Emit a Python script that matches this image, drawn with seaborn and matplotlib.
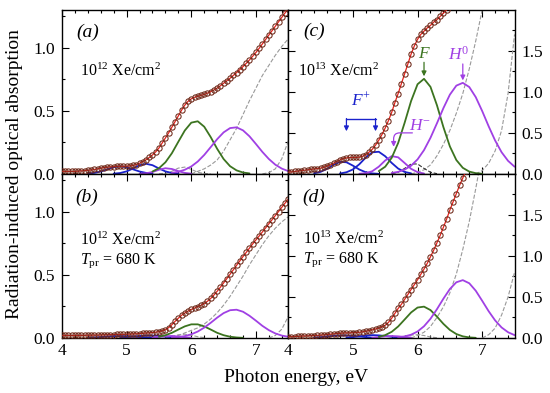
import numpy as np
import matplotlib
matplotlib.use("Agg")
import matplotlib.pyplot as plt
from matplotlib.ticker import MultipleLocator, FixedLocator, FormatStrFormatter
import seaborn as sns

# measured spectra, 0.05 eV grid starting at 4.0 eV
energy = np.round(np.arange(4.0, 7.501, 0.05), 2)

abs_a = [0.020, 0.020, 0.020, 0.020, 0.020, 0.022, 0.024, 0.026, 0.028, 0.031,
         0.035, 0.040, 0.045, 0.050, 0.053, 0.056, 0.058, 0.060, 0.060, 0.060,
         0.061, 0.063, 0.067, 0.074, 0.084, 0.097, 0.112, 0.130, 0.150, 0.175,
         0.205, 0.245, 0.285, 0.325, 0.370, 0.415, 0.460, 0.505, 0.545, 0.575,
         0.595, 0.607, 0.615, 0.622, 0.630, 0.640, 0.652, 0.665, 0.680, 0.698,
         0.718, 0.738, 0.758, 0.780, 0.802, 0.826, 0.850, 0.876, 0.903, 0.932,
         0.962, 0.995, 1.030, 1.065, 1.100, 1.135, 1.170, 1.205, 1.240, 1.275,
         1.310]
abs_b = [0.020, 0.020, 0.020, 0.020, 0.020, 0.020, 0.021, 0.021, 0.022, 0.022,
         0.023, 0.023, 0.024, 0.025, 0.025, 0.026, 0.027, 0.028, 0.028, 0.029,
         0.030, 0.031, 0.032, 0.033, 0.035, 0.037, 0.039, 0.041, 0.043, 0.046,
         0.050, 0.056, 0.065, 0.082, 0.105, 0.132, 0.157, 0.180, 0.198, 0.213,
         0.226, 0.237, 0.248, 0.259, 0.273, 0.291, 0.313, 0.340, 0.370, 0.402,
         0.436, 0.470, 0.505, 0.540, 0.575, 0.610, 0.645, 0.678, 0.712, 0.745,
         0.777, 0.808, 0.840, 0.872, 0.905, 0.937, 0.970, 1.002, 1.035, 1.068,
         1.100]
abs_c = [0.020, 0.025, 0.030, 0.035, 0.040, 0.045, 0.050, 0.055, 0.060, 0.065,
         0.070, 0.080, 0.095, 0.110, 0.130, 0.150, 0.170, 0.185, 0.195, 0.200,
         0.200, 0.200, 0.205, 0.215, 0.235, 0.265, 0.300, 0.350, 0.410, 0.480,
         0.560, 0.650, 0.750, 0.870, 0.980, 1.100, 1.220, 1.340, 1.460, 1.560,
         1.640, 1.700, 1.740, 1.780, 1.810, 1.850, 1.880, 1.920, 1.960, 2.000,
         2.050, 2.100]
abs_d = [0.015, 0.016, 0.018, 0.020, 0.022, 0.024, 0.026, 0.028, 0.030, 0.032,
         0.035, 0.038, 0.042, 0.046, 0.050, 0.054, 0.057, 0.060, 0.062, 0.063,
         0.064, 0.066, 0.070, 0.075, 0.082, 0.090, 0.100, 0.110, 0.120, 0.135,
         0.155, 0.190, 0.240, 0.300, 0.360, 0.410, 0.470, 0.530, 0.590, 0.650,
         0.710, 0.775, 0.840, 0.910, 0.990, 1.070, 1.160, 1.250, 1.350, 1.450,
         1.560, 1.660, 1.760, 1.860, 1.950, 2.040]

# fitted bands: (start energy, values every 0.1 eV)
a_fplus1 = (4.4, [0.003, 0.008, 0.019, 0.036, 0.053, 0.060, 0.053, 0.036, 0.019, 0.008, 0.003])
a_fplus2 = (4.8, [0.002, 0.007, 0.020, 0.043, 0.069, 0.080, 0.069, 0.043, 0.020, 0.007, 0.002])
a_hminus = (5.2, [0.001, 0.005, 0.015, 0.033, 0.045, 0.039, 0.022, 0.008, 0.002])
a_small = (5.5, [0.001, 0.005, 0.021, 0.046, 0.054, 0.036, 0.013, 0.003, 0.0])
a_f = (5.4, [0.019, 0.045, 0.092, 0.164, 0.255, 0.344, 0.406, 0.417, 0.374, 0.292,
             0.199, 0.118, 0.061, 0.028, 0.011, 0.004])
a_h0 = (5.7, [0.008, 0.017, 0.033, 0.059, 0.098, 0.150, 0.212, 0.275, 0.329, 0.363,
              0.369, 0.345, 0.298, 0.237, 0.174, 0.118, 0.073, 0.042, 0.022])
a_uv1 = (6.0, [0.0, 0.02, 0.04, 0.07, 0.11, 0.18, 0.27, 0.36, 0.47, 0.58, 0.68, 0.78,
               0.86, 0.94, 1.01, 1.07])
a_uv2 = (7.1, [0.0, 0.01, 0.04, 0.12, 0.26])

b_fplus1 = (4.4, [0.002, 0.004, 0.007, 0.011, 0.014, 0.015, 0.014, 0.011, 0.007, 0.004, 0.002])
b_fplus2 = (4.9, [0.003, 0.006, 0.011, 0.016, 0.019, 0.019, 0.016, 0.011, 0.006, 0.003])
b_hminus = (5.4, [0.003, 0.008, 0.014, 0.016, 0.012, 0.006, 0.002])
b_small = (5.6, [0.003, 0.012, 0.025, 0.030, 0.022, 0.010, 0.003])
b_f = (5.5, [0.010, 0.022, 0.041, 0.067, 0.092, 0.108, 0.108, 0.092, 0.067, 0.041,
             0.022, 0.010, 0.004, 0.001])
b_h0 = (5.7, [0.003, 0.007, 0.015, 0.029, 0.051, 0.082, 0.120, 0.161, 0.197, 0.220,
              0.224, 0.208, 0.176, 0.137, 0.096, 0.062, 0.036, 0.019, 0.010])
b_uv1 = (5.7, [0.0, 0.02, 0.04, 0.06, 0.08, 0.11, 0.15, 0.20, 0.26, 0.33, 0.41, 0.49,
               0.58, 0.66, 0.74, 0.81, 0.87, 0.92, 0.96])
b_uv2 = (7.2, [0.0, 0.02, 0.07, 0.17])

c_fplus1 = (4.4, [0.008, 0.025, 0.062, 0.111, 0.146, 0.142, 0.101, 0.053, 0.020, 0.006, 0.001])
c_fplus2 = (4.8, [0.005, 0.020, 0.054, 0.118, 0.200, 0.263, 0.270, 0.215, 0.134, 0.065,
                  0.024, 0.007])
c_hminus = (5.1, [0.002, 0.009, 0.033, 0.088, 0.164, 0.217, 0.202, 0.133, 0.062, 0.021, 0.005])
c_small = (5.6, [0.003, 0.020, 0.067, 0.121, 0.121, 0.067, 0.020, 0.003])
c_f = (5.4, [0.034, 0.088, 0.196, 0.377, 0.623, 0.888, 1.093, 1.159, 1.061, 0.837,
             0.570, 0.335, 0.169, 0.074, 0.028, 0.009, 0.002])
c_h0 = (5.6, [0.011, 0.025, 0.052, 0.100, 0.177, 0.290, 0.440, 0.617, 0.802, 0.966,
              1.076, 1.110, 1.059, 0.936, 0.766, 0.580, 0.407, 0.264, 0.159, 0.088])
c_uv1 = (5.9, [0.0, 0.02, 0.05, 0.11, 0.22, 0.36, 0.53, 0.74, 0.98, 1.28, 1.62, 2.0, 2.4])
c_uv2 = (6.9, [0.0, 0.04, 0.13, 0.28, 0.53, 0.98, 1.7])

d_fplus1 = (4.4, [0.004, 0.010, 0.018, 0.026, 0.030, 0.030, 0.026, 0.018, 0.010, 0.004])
d_fplus2 = (4.9, [0.004, 0.010, 0.020, 0.030, 0.035, 0.032, 0.024, 0.014, 0.006, 0.002])
d_hminus = (5.3, [0.005, 0.012, 0.020, 0.024, 0.020, 0.012, 0.005])
d_small = (5.7, [0.005, 0.020, 0.035, 0.040, 0.030, 0.012, 0.003])
d_f = (5.4, [0.014, 0.035, 0.075, 0.140, 0.225, 0.311, 0.371, 0.382, 0.340, 0.260,
             0.172, 0.098, 0.048, 0.020, 0.007, 0.002])
d_h0 = (5.7, [0.008, 0.019, 0.040, 0.079, 0.143, 0.234, 0.351, 0.479, 0.597, 0.679,
              0.705, 0.667, 0.576, 0.453, 0.326, 0.214, 0.128, 0.070, 0.035])
d_uv1 = (5.9, [0.0, 0.03, 0.07, 0.14, 0.25, 0.38, 0.55, 0.78, 1.08, 1.42, 1.82, 2.25])
d_uv2 = (7.0, [0.0, 0.04, 0.12, 0.28, 0.50, 0.80])

GREEN = "#3c7420"
VIOLET = "#a040e4"
BLUE = "#1a22cc"
GREY = "#999999"
RED = "#e5221c"
CIRC = "#6e2818"

sns.set_theme(style="ticks")
plt.rcParams["font.family"] = ["Liberation Serif", "DejaVu Serif"]
plt.rcParams["mathtext.fontset"] = "custom"
plt.rcParams["mathtext.rm"] = "Liberation Serif"
plt.rcParams["mathtext.it"] = "Liberation Serif:italic"
plt.rcParams["text.color"] = "black"
plt.rcParams["axes.edgecolor"] = "black"
plt.rcParams["xtick.color"] = "black"
plt.rcParams["ytick.color"] = "black"


def band(ax, comp, color, ls="-", lw=1.3):
    start, vals = comp
    xs = np.round(start + 0.1 * np.arange(len(vals)), 2)
    sns.lineplot(x=xs, y=vals, ax=ax, color=color, linestyle=ls, lw=lw)


def spectrum(ax, vals):
    sns.lineplot(x=energy[:len(vals)], y=vals, ax=ax, color=RED, lw=0.9,
                 marker="o", markersize=3.8, markerfacecolor="none",
                 markeredgecolor=CIRC, markeredgewidth=0.75, zorder=5)


fig, axes = plt.subplots(2, 2, figsize=(5.5, 3.93), dpi=100)
fig.subplots_adjust(left=0.1127, right=0.9355, bottom=0.14, top=0.975, wspace=0, hspace=0)
ax_a, ax_c = axes[0]
ax_b, ax_d = axes[1]

panels = [
    (ax_a, abs_a, a_fplus1, a_fplus2, a_hminus, a_small, a_f, a_h0, a_uv1, a_uv2),
    (ax_b, abs_b, b_fplus1, b_fplus2, b_hminus, b_small, b_f, b_h0, b_uv1, b_uv2),
    (ax_c, abs_c, c_fplus1, c_fplus2, c_hminus, c_small, c_f, c_h0, c_uv1, c_uv2),
    (ax_d, abs_d, d_fplus1, d_fplus2, d_hminus, d_small, d_f, d_h0, d_uv1, d_uv2),
]
for ax, spec, fp1, fp2, hm, sm, f, h0, uv1, uv2 in panels:
    band(ax, uv1, GREY, "--", 0.8)
    band(ax, uv2, GREY, "--", 0.8)
    band(ax, sm, "#333333" if ax is ax_c else GREY, "--", 0.8)
    band(ax, fp1, BLUE)
    band(ax, fp2, BLUE)
    band(ax, hm, VIOLET)
    band(ax, f, GREEN)
    band(ax, h0, VIOLET)
    spectrum(ax, spec)

for ax in axes.flat:
    ax.set_xlim(4, 7.5)
    ax.set_xlabel("")
    ax.set_ylabel("")
    ax.xaxis.set_major_locator(MultipleLocator(1))
    ax.xaxis.set_minor_locator(MultipleLocator(0.2))
    ax.tick_params(which="both", direction="in", top=True, bottom=True,
                   left=True, right=True, width=0.8, labelsize=12.5, colors="black")
    ax.tick_params(which="major", length=5)
    ax.tick_params(which="minor", length=2.5)
    ax.yaxis.set_major_formatter(FormatStrFormatter("%.1f"))
    for s in ax.spines.values():
        s.set_linewidth(1.0)

for ax in (ax_a, ax_b):
    ax.set_ylim(0, 1.3)
    ax.yaxis.set_major_locator(FixedLocator([0, 0.5, 1.0]))
    ax.yaxis.set_minor_locator(FixedLocator([0.25, 0.75, 1.25]))
    ax.tick_params(axis="y", pad=5)
for ax in (ax_c, ax_d):
    ax.set_ylim(0, 2.0)
    ax.yaxis.set_major_locator(FixedLocator([0, 0.5, 1.0, 1.5]))
    ax.yaxis.set_minor_locator(FixedLocator([0.25, 0.75, 1.25, 1.75]))
    ax.tick_params(axis="y", labelleft=False, labelright=True, pad=5)
for ax in (ax_a, ax_c):
    ax.tick_params(axis="x", labelbottom=False)

# panel captions
for ax, letter, x, y in [(ax_a, "(a)", 0.062, 0.862), (ax_b, "(b)", 0.058, 0.855),
                         (ax_c, "(c)", 0.066, 0.867), (ax_d, "(d)", 0.06, 0.858)]:
    ax.text(x, y, letter, transform=ax.transAxes, fontsize=14, style="italic",
            ha="left", va="center")

ax_a.text(0.08, 0.595, r"10$^{12}$ Xe/cm$^{2}$", transform=ax_a.transAxes, fontsize=11.5)
ax_b.text(0.08, 0.568, r"10$^{12}$ Xe/cm$^{2}$", transform=ax_b.transAxes, fontsize=11.5)
ax_b.text(0.08, 0.455, r"$T_{\rm pr}$ = 680 K", transform=ax_b.transAxes, fontsize=11.5)
ax_c.text(0.044, 0.595, r"10$^{13}$ Xe/cm$^{2}$", transform=ax_c.transAxes, fontsize=11.5)
ax_d.text(0.065, 0.574, r"10$^{13}$ Xe/cm$^{2}$", transform=ax_d.transAxes, fontsize=11.5)
ax_d.text(0.065, 0.461, r"$T_{\rm pr}$ = 680 K", transform=ax_d.transAxes, fontsize=11.5)

# band labels in (c)
arrow = dict(arrowstyle="-|>", lw=0.9, mutation_scale=7, shrinkA=0, shrinkB=0)
ax_c.plot([4.90, 5.35], [0.675, 0.675], color=BLUE, lw=1.0)
for xa in (4.90, 5.35):
    ax_c.annotate("", xy=(xa, 0.52), xytext=(xa, 0.675),
                  arrowprops=dict(arrow, color=BLUE))
ax_c.text(5.12, 0.90, r"$F^{+}$", color=BLUE, fontsize=12.5, ha="center", va="center")
ax_c.text(6.10, 1.46, r"$F$", color=GREEN, fontsize=12.5, ha="center", va="center")
ax_c.annotate("", xy=(6.10, 1.19), xytext=(6.10, 1.36), arrowprops=dict(arrow, color=GREEN))
ax_c.text(6.63, 1.45, r"$H^{0}$", color=VIOLET, fontsize=12.5, ha="center", va="center")
ax_c.annotate("", xy=(6.70, 1.14), xytext=(6.70, 1.34), arrowprops=dict(arrow, color=VIOLET))
ax_c.text(6.04, 0.58, r"$H^{-}$", color=VIOLET, fontsize=12.5, ha="center", va="center")
ax_c.annotate("", xy=(5.63, 0.33), xytext=(5.92, 0.50),
              arrowprops=dict(arrow, color=VIOLET,
                              connectionstyle="angle,angleA=0,angleB=90,rad=6"))

fig.text(0.027, 0.557, "Radiation-induced optical absorption", rotation=90,
         ha="center", va="center", fontsize=14)
fig.text(0.538, 0.04, "Photon energy, eV", ha="center", va="center", fontsize=14)

fig.savefig("out.png", dpi=100)
